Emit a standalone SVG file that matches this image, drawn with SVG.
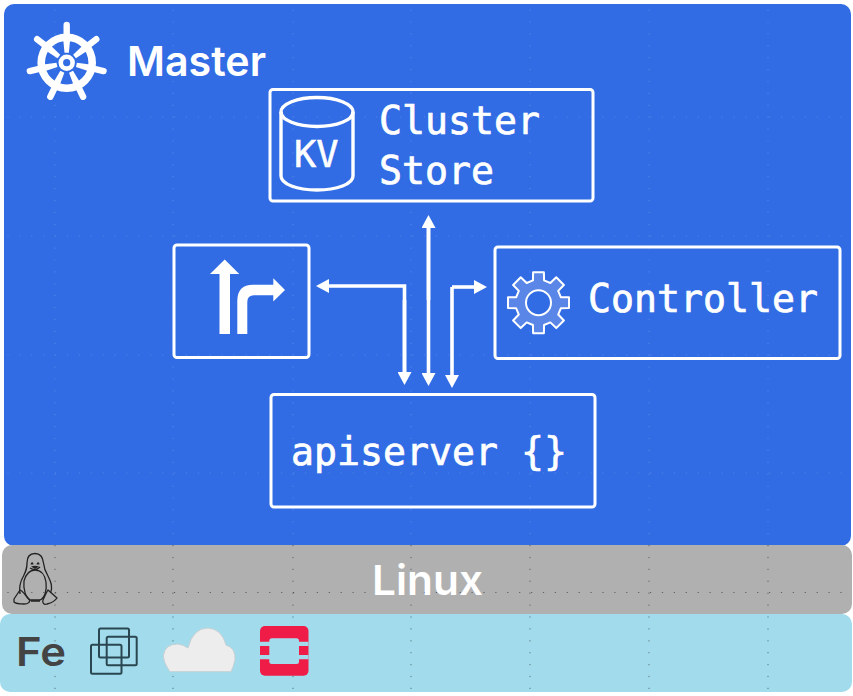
<svg xmlns="http://www.w3.org/2000/svg" xmlns:xlink="http://www.w3.org/1999/xlink" width="853" height="696" viewBox="0 0 853 696">
<style>
.box{fill:none;stroke:#fff;stroke-width:3}
.mono{font-family:"DejaVu Sans Mono","Liberation Mono",monospace;font-size:38.2px;fill:#fff;stroke:#fff;stroke-width:.7}
.sans{font-family:Inter,"Open Sans","Liberation Sans",sans-serif;font-weight:600}
.conn{fill:none;stroke:#fff;stroke-width:3.6;marker-end:url(#ah)}
.sq{fill:none;stroke:#2a4650;stroke-width:2}
.tux{fill:none;stroke:#222;stroke-width:1.3;stroke-linejoin:round}
.gridL{fill:none;stroke:#fff;stroke-opacity:.16;stroke-width:1.2;stroke-dasharray:1.2 10.7}
.gridD{fill:none;stroke:#111;stroke-opacity:.5;stroke-width:1;stroke-dasharray:1.2 10.7}
</style>
<defs>
<marker id="ah" markerUnits="userSpaceOnUse" viewBox="0 0 13 14" markerWidth="13" markerHeight="14" refX="5" refY="7" orient="auto-start-reverse"><path d="M0 0L13 7L0 14z" fill="#fff"/></marker>
<g id="handle"><path d="M-3.6-25L-2.2-10H2.2L3.6-25Z" fill="#fff"/><rect x="-3.2" y="-41" width="6.4" height="16" rx="3.2" fill="#fff"/></g>
</defs>
<rect width="853" height="696" fill="#fff"/>
<g id="panels">
<rect x="4" y="4" width="847" height="542" rx="10" fill="#316ce4"/>
<rect x="2" y="545" width="850" height="69" rx="10" fill="#b0b0b0"/>
<rect x="0" y="614" width="852" height="78" rx="10" fill="#a2dcec"/>
</g>
<g id="grid">
<path class="gridL" d="M55 9.5V545M173 9.5V545M293 9.5V545M411 9.5V545M530 9.5V545M649 9.5V545M768 9.5V545M7.4 117H850M7.4 236H850M7.4 355H850M7.4 473H850"/>
<path class="gridD" d="M55 545V692M173 545V692M293 545V692M411 545V692M530 545V692M649 545V692M768 545V692M7.4 592.5H850"/>
</g>
<g id="master-title">
<g id="wheel" transform="translate(66.7 62.7)">
<circle r="25.5" fill="none" stroke="#fff" stroke-width="7.6"/>
<g id="spokes" fill="#fff">
<use xlink:href="#handle" href="#handle"/>
<use xlink:href="#handle" href="#handle" transform="rotate(51.43)"/>
<use xlink:href="#handle" href="#handle" transform="rotate(102.86)"/>
<use xlink:href="#handle" href="#handle" transform="rotate(154.29)"/>
<use xlink:href="#handle" href="#handle" transform="rotate(205.71)"/>
<use xlink:href="#handle" href="#handle" transform="rotate(257.14)"/>
<use xlink:href="#handle" href="#handle" transform="rotate(308.57)"/>
</g>
<circle r="8.2" fill="#fff"/>
<circle r="3.6" fill="#316ce4"/>
</g>
<text class="sans" x="127" y="75.5" font-size="41" fill="#fff" textLength="139" lengthAdjust="spacingAndGlyphs">Master</text>
</g>
<g id="cluster-store">
<rect class="box" x="270" y="89.5" width="323" height="111.5" rx="3"/>
<path d="M281 112V176C281 184 297 190 317 190S353 184 353 176V112" fill="none" stroke="#fff" stroke-width="3.4"/>
<ellipse cx="317" cy="112" rx="36" ry="14.5" fill="none" stroke="#fff" stroke-width="3.4"/>
<text x="294" y="167" style="font-family:'DejaVu Sans Mono','Liberation Mono',monospace;font-size:37px;fill:#fff;stroke:#fff;stroke-width:.5">KV</text>
<text class="mono" x="379" y="133.5">Cluster</text>
<text class="mono" x="379" y="183.5">Store</text>
</g>
<g id="scheduler">
<rect class="box" x="174" y="245" width="135" height="112.5" rx="3"/>
<path fill="#fff" d="M224.7 259.5L239.3 274H230V334H219.5V274H210ZM237.3 334V301Q237.3 284.7 253 284.7H273.3V278.3L285 290L273.3 301.5V295.3H254Q247.3 295.3 247.3 302V334Z"/>
</g>
<g id="controller">
<rect class="box" x="495" y="247" width="345" height="111.5" rx="3"/>
<g transform="translate(538.5 302.7)">
<path fill="#5a86e8" stroke="#fff" stroke-width="2" stroke-linejoin="round" d="M-5.56-22.3L-5.4-30.5H5.4L5.56-22.3L11.84-19.7L17.75-25.39L25.39-17.75L19.7-11.84L22.3-5.56L30.5-5.4V5.4L22.3 5.56L19.7 11.84L25.39 17.75L17.75 25.39L11.84 19.7L5.56 22.3L5.4 30.5H-5.4L-5.56 22.3L-11.84 19.7L-17.75 25.39L-25.39 17.75L-19.7 11.84L-22.3 5.56L-30.5 5.4V-5.4L-22.3-5.56L-19.7-11.84L-25.39-17.75L-17.75-25.39L-11.84-19.7Z"/>
<circle r="12.5" fill="#316ce4" stroke="#fff" stroke-width="2"/>
</g>
<text class="mono" x="588" y="311.5">Controller</text>
</g>
<g id="apiserver">
<rect class="box" x="271" y="394.5" width="324" height="112.5" rx="3"/>
<text class="mono" x="291" y="464.5">apiserver {}</text>
</g>
<g id="connectors">
<path class="conn" d="M404.5 377V286H324"/>
<path class="conn" d="M404.5 300V377"/>
<path class="conn" d="M428.5 224V378"/>
<path class="conn" d="M428.5 300V223"/>
<path class="conn" d="M452 287H479"/>
<path class="conn" d="M452 287V380"/>
</g>
<g id="linux">
<g id="tux">
<path class="tux" d="M35 553.5C29 553.5 27 558 27 563C27 569 26 571 23.5 576C20 582 19 588 20 594M35 553.5C41 553.5 43 558 43.5 563C44 569 45 571 48 576C51 582 53 587 50.5 593"/>
<path class="tux" d="M24 581C26 574 30 570 35 570C41 570 45 575 46 582C47 590 45 598 40 600H30C26 598 23 590 24 581Z"/>
<path class="tux" d="M14 599L20 590C23 591 25 595 29 599C31 602 28 604 24 604C20 604 16 604 14 602ZM57 598L48 590C46 593 44 598 43 600C42 603 44 605 47 604C51 603 55 601 57 598Z"/>
<path class="tux" d="M30 568C33 570 37 570 40 567M31 601H40"/>
<path d="M30.5 564.5C31 561.5 33.5 561.5 33.5 564.5ZM36.5 564.5C37 561.5 39.5 561.5 39.5 564.5ZM31 566.5Q35 565 39 566.5L35 569Z" fill="#222"/>
</g>
<text class="sans" x="372" y="595" font-size="41" fill="#fff" textLength="111" lengthAdjust="spacingAndGlyphs">Linux</text>
</g>
<g id="infrastructure">
<text id="fe" class="sans" x="16" y="666" font-size="40" fill="#444" textLength="50" lengthAdjust="spacingAndGlyphs">Fe</text>
<g id="vmware">
<rect class="sq" x="99" y="628.5" width="30" height="29" rx="1.5"/>
<rect class="sq" x="106.7" y="636.7" width="30" height="28.5" rx="1.5"/>
<rect class="sq" x="91" y="644.7" width="30.5" height="29" rx="1.5"/>
</g>
<path id="cloud" d="M170 671.7Q163 662 163.5 655Q165 644 178 644Q184 645 188 648Q193 628 208 628Q222 629 226 645Q236 648 235 660Q233 668 231 671.7Z" fill="#ededed" stroke="#c4d0d4" stroke-width="1"/>
<g id="openstack">
<rect x="260" y="626" width="48.5" height="49.7" rx="5" fill="#ee1c46"/>
<rect x="269.3" y="638.3" width="29.7" height="25.7" rx="2.5" fill="#a2dcec"/>
<path d="M260 641.7H270V646H260ZM298 641.7H308.5V646H298ZM260 655H270V659.3H260ZM298 655H308.5V659.3H298Z" fill="#a2dcec"/>
</g>
</g>
</svg>
